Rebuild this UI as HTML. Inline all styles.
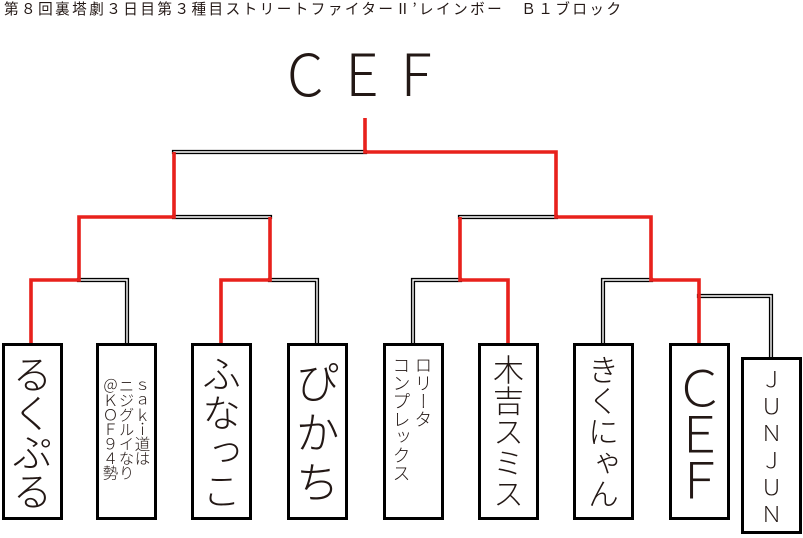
<!DOCTYPE html>
<html><head><meta charset="utf-8"><style>
html,body{margin:0;padding:0;background:#fff;}
body{width:803px;height:538px;position:relative;overflow:hidden;font-family:"Liberation Sans","Noto Sans CJK JP",sans-serif;color:#231815;}
.t{position:absolute;left:4px;top:0px;font-size:14.6px;line-height:18px;white-space:nowrap;font-family:"Noto Sans CJK JP",sans-serif;letter-spacing:2.45px}
.big{position:absolute;left:287px;top:36px;font-size:58px;line-height:70px;letter-spacing:22px;font-family:"Noto Sans CJK JP",sans-serif;font-weight:300}
.b{position:absolute;box-sizing:border-box;width:61px;height:177px;border:3.5px solid #000;background:#fff;display:flex;justify-content:center;align-items:center}
.v{writing-mode:vertical-rl;text-orientation:upright;font-family:"Noto Sans CJK JP",sans-serif;font-weight:300;white-space:nowrap}
</style></head><body>
<div class="t">第８回裏塔劇３日目第３種目ストリートファイターⅡ’レインボー　Ｂ１ブロック</div>
<div class="big">CEF</div>
<svg width="803" height="538" style="position:absolute;left:0;top:0">
<g fill="none" stroke-linejoin="miter" stroke-linecap="square">
<g stroke="#000" stroke-width="4.2">
<path d="M174 152H365"/><path d="M174 217H270"/><path d="M460 217H556"/>
<path d="M79 280H127V343"/><path d="M270 280H317V343"/><path d="M413 343V280H460"/><path d="M603 343V280H651"/><path d="M699 296H771V357"/>
</g>
<g stroke="#fff" stroke-width="1.4">
<path d="M174 152H365"/><path d="M174 217H270"/><path d="M460 217H556"/>
<path d="M79 280H127V343"/><path d="M270 280H317V343"/><path d="M413 343V280H460"/><path d="M603 343V280H651"/><path d="M699 296H771V357"/>
</g>
<g stroke="#e8211c" stroke-width="3.6" stroke-linecap="butt">
<path d="M365 118V152H556V217H651V280H699V343"/>
<path d="M174 152V217H79V280H31V343"/>
<path d="M270 217V280H221V343"/>
<path d="M460 217V280H508V343"/>
</g>
</g>
</svg>
<div class="b" style="left:2px;top:343px"><div class="v" style="font-size:40px;letter-spacing:-1px">るくぷる</div></div>
<div class="b" style="left:96px;top:343px"><div class="v" style="font-size:15.5px;line-height:16px;letter-spacing:-1px;margin-top:-6px">ｓａｋｉ道は<br>ニジグルイなり<br>＠ＫＯＦ９４勢</div></div>
<div class="b" style="left:191px;top:343px"><div class="v" style="font-size:39px;letter-spacing:0px">ふなっこ</div></div>
<div class="b" style="left:287px;top:343px"><div class="v" style="font-size:44px;letter-spacing:6px;margin-top:6px">ぴかち</div></div>
<div class="b" style="left:383px;top:343px"><div class="v" style="font-size:18px;line-height:22px;letter-spacing:0px;margin-top:10px;align-self:flex-start;margin-right:2px">ロリータ<br>コンプレックス</div></div>
<div class="b" style="left:478px;top:343px"><div class="v" style="font-size:31px;letter-spacing:0px">木吉スミス</div></div>
<div class="b" style="left:573px;top:343px"><div class="v" style="font-size:31px;letter-spacing:0px">きくにゃん</div></div>
<div class="b" style="left:669px;top:343px"><div class="v" style="font-size:50px;letter-spacing:-4px;line-height:50px">ＣＥＦ</div></div>
<div class="b" style="left:741px;top:357px"><div class="v" style="font-size:22px;letter-spacing:5px;margin-top:6px">ＪＵＮＪＵＮ</div></div>
</body></html>
